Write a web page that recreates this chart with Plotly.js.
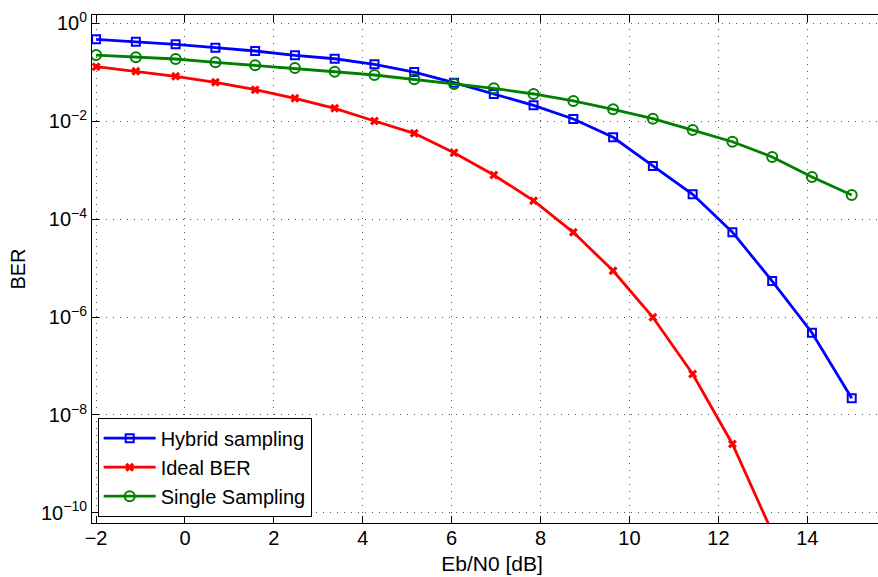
<!DOCTYPE html>
<html>
<head>
<meta charset="utf-8">
<script src="https://cdn.plot.ly/plotly-3.0.1.min.js"></script>
<style>
html, body { margin: 0; padding: 0; overflow: hidden; background: #fff; }
#chart { width: 900px; height: 577px; }
</style>
</head>
<body>
<div id="chart"></div>
<script>
// Eb/N0 values [dB]
const ebn0 = [-2, -1.1053, -0.2105, 0.6842, 1.5789, 2.4737, 3.3684, 4.2632, 5.1579, 6.0526,
              6.9474, 7.8421, 8.7368, 9.6316, 10.5263, 11.4211, 12.3158, 13.2105, 14.1053, 15];
// BER series
const hybridBER = [0.471, 0.421, 0.372, 0.318, 0.272, 0.222, 0.189, 0.145, 0.101, 0.0612,
                   0.036, 0.0211, 0.0111, 0.0047, 0.00122, 3.21e-4, 5.4e-5, 5.43e-6, 4.78e-7, 2.18e-8];
const idealBER = [0.130, 0.1045, 0.0827, 0.0623, 0.0440, 0.0294, 0.01835, 0.0101, 5.66e-3, 2.27e-3,
                  7.96e-4, 2.38e-4, 5.37e-5, 8.83e-6, 9.86e-7, 6.85e-8, 2.55e-9, 4.0e-11];
const singleBER = [0.225, 0.202, 0.1866, 0.1597, 0.1387, 0.122, 0.1026, 0.0879, 0.0718, 0.0575,
                   0.047, 0.036, 0.0259, 0.0175, 0.01125, 6.6e-3, 3.81e-3, 1.86e-3, 7.24e-4, 3.1e-4];
const seriesNames = ['Hybrid sampling', 'Ideal BER', 'Single Sampling'];
const yTickVals = [1, 1e-2, 1e-4, 1e-6, 1e-8, 1e-10];
const yTickText = ['10<sup>0</sup>', '10<sup>−2</sup>', '10<sup>−4</sup>', '10<sup>−6</sup>', '10<sup>−8</sup>', '10<sup>−10</sup>'];
const xTickVals = [-2, 0, 2, 4, 6, 8, 10, 12, 14];

const FONT = '"Liberation Sans", Arial, Helvetica, sans-serif';

const traces = [
  {
    x: ebn0, y: hybridBER, name: seriesNames[0], type: 'scatter', mode: 'lines+markers',
    line: { color: '#0000ff', width: 2.8 },
    marker: { symbol: 'square-open', size: 8, color: '#0000ff', line: { width: 2, color: '#0000ff' } }
  },
  {
    x: ebn0.slice(0, idealBER.length), y: idealBER, name: seriesNames[1], type: 'scatter', mode: 'lines+markers',
    line: { color: '#ff0000', width: 2.8 },
    marker: { symbol: 'x', size: 8, color: '#ff0000' }
  },
  {
    x: ebn0, y: singleBER, name: seriesNames[2], type: 'scatter', mode: 'lines+markers',
    line: { color: '#008000', width: 2.8 },
    marker: { symbol: 'circle-open', size: 10, color: '#008000', line: { width: 2, color: '#008000' } }
  }
];

const layout = {
  width: 900, height: 577,
  margin: { l: 92, r: 8, t: 15, b: 54 },
  paper_bgcolor: '#ffffff', plot_bgcolor: '#ffffff',
  font: { family: FONT, size: 20, color: '#000' },
  showlegend: true,
  legend: {
    x: 0.0071, y: 0.0124, xanchor: 'left', yanchor: 'bottom',
    bgcolor: '#ffffff', bordercolor: '#000', borderwidth: 1,
    font: { family: FONT, size: 20, color: '#000' },
    itemwidth: 52,
    tracegroupgap: 0
  },
  xaxis: {
    type: 'linear', range: [-2.092, 15.906],
    tickmode: 'array', tickvals: xTickVals,
    ticks: 'inside', ticklen: 7, tickcolor: '#000', tickwidth: 1,
    ticklabelstandoff: -3,
    showline: true, linecolor: '#000', linewidth: 1, mirror: 'ticks',
    showgrid: true, gridcolor: '#555', gridwidth: 1, griddash: '1px,6px',
    zeroline: false,
    tickfont: { family: FONT, size: 20, color: '#000' },
    title: { text: 'Eb/N0 [dB]', font: { family: FONT, size: 21, color: '#000' }, standoff: 8 }
  },
  yaxis: {
    type: 'log', range: [-10.208, 0.170],
    tickmode: 'array', tickvals: yTickVals, ticktext: yTickText,
    ticks: 'inside', ticklen: 7, tickcolor: '#000', tickwidth: 1,
    showline: true, linecolor: '#000', linewidth: 1, mirror: 'ticks',
    showgrid: true, gridcolor: '#555', gridwidth: 1, griddash: '1px,6px',
    zeroline: false,
    tickfont: { family: FONT, size: 20, color: '#000' },
    title: { text: 'BER', font: { family: FONT, size: 20, color: '#000' }, standoff: 10 }
  }
};

Plotly.newPlot('chart', traces, layout, { displayModeBar: false, staticPlot: true });
</script>
</body>
</html>
